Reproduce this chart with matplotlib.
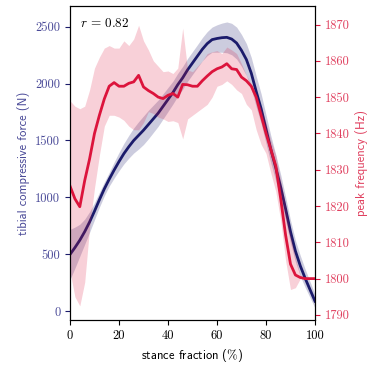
import numpy as np
import matplotlib
matplotlib.use("Agg")
import matplotlib.pyplot as plt

plt.rcParams["mathtext.fontset"] = "cm"
plt.rcParams["axes.unicode_minus"] = False

NAVY = "#1b1b6b"
CRIMSON = "#dc143c"
NAVY_TXT = "#4a4a98"
CRIMSON_TXT = "#e0405f"

# stance fraction (%)
stance = np.arange(0, 101, 2)

# tibial compressive force (N), mean and half-width of the band
force = [500, 560, 625, 700, 785, 880, 980, 1075, 1160, 1240,
         1315, 1385, 1445, 1500, 1545, 1590, 1640, 1690, 1740, 1800,
         1860, 1920, 1990, 2050, 2120, 2180, 2240, 2300, 2350, 2385,
         2395, 2402, 2405, 2390, 2355, 2290, 2210, 2090, 1930, 1780,
         1600, 1420, 1260, 1090, 900, 700, 530, 400, 290, 190, 90]
force_sd = [220, 180, 140, 110, 90, 75, 65, 60, 60, 70,
            80, 90, 100, 110, 120, 125, 125, 120, 115, 110,
            105, 100, 100, 100, 100, 100, 100, 102, 105, 110,
            120, 128, 135, 138, 140, 140, 140, 138, 135, 130,
            125, 120, 115, 110, 105, 100, 95, 90, 80, 70, 60]

# peak frequency (Hz), mean with lower/upper band
freq = [1825.5, 1822, 1819.8, 1827, 1833, 1840, 1845, 1849.5, 1853, 1854,
        1853, 1853, 1853.8, 1854.2, 1856, 1852.8, 1851.8, 1851, 1850, 1849.6,
        1850.5, 1851, 1850, 1853.5, 1853.4, 1853, 1853, 1854.5, 1855.8, 1857,
        1857.8, 1858.3, 1859.2, 1857.8, 1857.6, 1855.5, 1854.5, 1853, 1850, 1845,
        1840, 1835.5, 1831, 1822, 1812, 1804, 1801, 1800.3, 1800, 1800, 1800]
freq_hi = [1849, 1847.5, 1846.8, 1847.5, 1852, 1858, 1861, 1863.5, 1864.2, 1863.5,
           1863.5, 1865.5, 1864.2, 1866, 1869.8, 1865.5, 1863, 1860, 1858.5, 1857,
           1857.2, 1856.5, 1858, 1869, 1857.5, 1857, 1858.5, 1860, 1862, 1862.5,
           1862.8, 1862, 1863.8, 1863, 1862, 1859.2, 1856, 1853.5, 1850, 1847,
           1843, 1838, 1834, 1827, 1820, 1812, 1806, 1801, 1800, 1800, 1800]
freq_lo = [1802, 1795, 1792.5, 1799, 1814, 1825, 1834, 1842, 1845, 1845,
           1844.5, 1843.6, 1842, 1841, 1841, 1843, 1846, 1845.5, 1844.5, 1844,
           1843.3, 1843.5, 1843, 1838.5, 1844, 1845, 1846, 1847, 1848, 1850,
           1853, 1853.5, 1854.5, 1853.5, 1852, 1851, 1848, 1846.5, 1841, 1837,
           1834.5, 1829, 1824, 1816, 1805, 1797, 1797.5, 1800, 1800, 1800, 1800]

force = np.array(force)
force_sd = np.array(force_sd)

fig = plt.figure(figsize=(3.77, 3.66), dpi=100)
ax = fig.add_axes([70 / 377, 1 - 320 / 366, 245 / 377, 314 / 366])

ax.fill_between(stance, force - force_sd, force + force_sd,
                color=NAVY, alpha=0.22, lw=0)
ax.plot(stance, force, color=NAVY, lw=2)
ax.set_xlim(0, 100)
ax.set_ylim(-75, 2680)
ax.set_yticks([0, 500, 1000, 1500, 2000, 2500])
ax.set_xticks([0, 20, 40, 60, 80, 100])

ax2 = ax.twinx()
ax2.fill_between(stance, freq_lo, freq_hi, color=CRIMSON, alpha=0.2, lw=0)
ax2.plot(stance, freq, color=CRIMSON, lw=2)
ax2.set_ylim(1788.6, 1875.1)
ax2.set_yticks(range(1790, 1871, 10))

lab_font = dict(family="cmss10", size=9)

for lab in ax.get_xticklabels():
    lab.set_fontfamily("cmr10"); lab.set_fontsize(9)
for lab in ax.get_yticklabels():
    lab.set_fontfamily("cmr10"); lab.set_fontsize(9)
for lab in ax2.get_yticklabels():
    lab.set_fontfamily("cmr10"); lab.set_fontsize(9)

ax.tick_params(axis="y", colors=NAVY, labelcolor=NAVY_TXT, length=3.5)
ax.tick_params(axis="x", length=3.5)
ax2.tick_params(axis="y", colors=CRIMSON, labelcolor=CRIMSON_TXT, length=3.5)

ax.set_xlabel(r"stance fraction ($\mathsf{\%}$)", fontdict=lab_font, labelpad=4)
ax.set_ylabel("tibial compressive force (N)", fontdict=lab_font, color=NAVY_TXT)
ax2.set_ylabel("peak frequency (Hz)", fontdict=lab_font, color=CRIMSON_TXT)

ax.text(0.04, 0.965, r"$r\,=\,0.82$", transform=ax.transAxes,
        ha="left", va="top", fontsize=9.5)

fig.savefig("out.png", dpi=100)
